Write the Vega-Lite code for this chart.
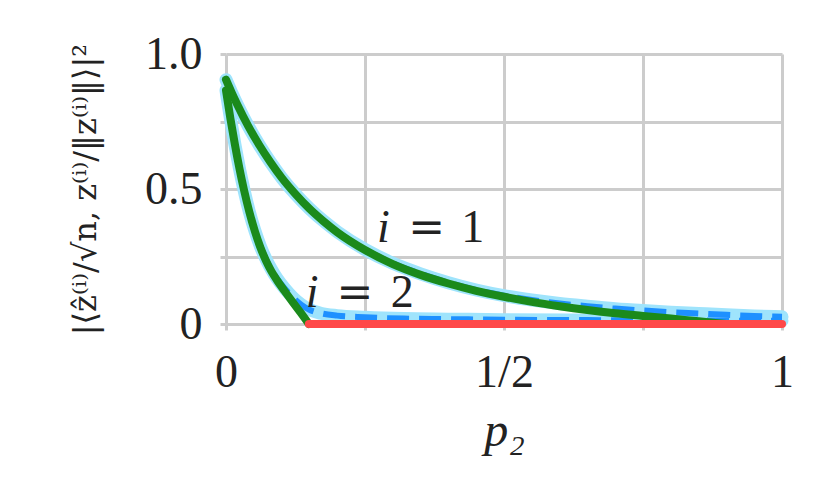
{
  "$schema": "https://vega.github.io/schema/vega-lite/v6.json",
  "width": 556,
  "height": 270,
  "autosize": "none",
  "padding": {"left": 226, "top": 54, "right": 48, "bottom": 175},
  "background": "white",
  "config": {
    "view": {"stroke": null},
    "axis": {
      "domain": false,
      "grid": true,
      "gridColor": "#cccccc",
      "gridWidth": 3,
      "gridOpacity": 1,
      "tickColor": "#cccccc",
      "tickWidth": 3,
      "tickSize": 6,
      "labelFont": "Liberation Serif",
      "labelFontSize": 46,
      "labelColor": "#222222",
      "labelFlush": false,
      "labelOverlap": false,
      "titleColor": "#222222",
      "titleFontWeight": "normal"
    }
  },
  "datasets": {
    "curves": [
      {"series": "sim1", "p2": 0, "overlap": 0.905},
      {"series": "sim1", "p2": 0.01, "overlap": 0.858},
      {"series": "sim1", "p2": 0.02, "overlap": 0.814},
      {"series": "sim1", "p2": 0.04, "overlap": 0.733},
      {"series": "sim1", "p2": 0.06, "overlap": 0.662},
      {"series": "sim1", "p2": 0.08, "overlap": 0.599},
      {"series": "sim1", "p2": 0.1, "overlap": 0.542},
      {"series": "sim1", "p2": 0.125, "overlap": 0.481},
      {"series": "sim1", "p2": 0.15, "overlap": 0.428},
      {"series": "sim1", "p2": 0.175, "overlap": 0.382},
      {"series": "sim1", "p2": 0.2, "overlap": 0.342},
      {"series": "sim1", "p2": 0.25, "overlap": 0.276},
      {"series": "sim1", "p2": 0.3, "overlap": 0.225},
      {"series": "sim1", "p2": 0.35, "overlap": 0.186},
      {"series": "sim1", "p2": 0.4, "overlap": 0.153},
      {"series": "sim1", "p2": 0.45, "overlap": 0.126},
      {"series": "sim1", "p2": 0.5, "overlap": 0.105},
      {"series": "sim1", "p2": 0.55, "overlap": 0.089},
      {"series": "sim1", "p2": 0.6, "overlap": 0.076},
      {"series": "sim1", "p2": 0.65, "overlap": 0.066},
      {"series": "sim1", "p2": 0.7, "overlap": 0.057},
      {"series": "sim1", "p2": 0.75, "overlap": 0.05},
      {"series": "sim1", "p2": 0.8, "overlap": 0.044},
      {"series": "sim1", "p2": 0.85, "overlap": 0.039},
      {"series": "sim1", "p2": 0.9, "overlap": 0.034},
      {"series": "sim1", "p2": 0.95, "overlap": 0.03},
      {"series": "sim1", "p2": 1, "overlap": 0.027},

      {"series": "sim2", "p2": 0, "overlap": 0.865},
      {"series": "sim2", "p2": 0.008, "overlap": 0.76},
      {"series": "sim2", "p2": 0.016, "overlap": 0.665},
      {"series": "sim2", "p2": 0.024, "overlap": 0.578},
      {"series": "sim2", "p2": 0.032, "overlap": 0.5},
      {"series": "sim2", "p2": 0.042, "overlap": 0.415},
      {"series": "sim2", "p2": 0.052, "overlap": 0.345},
      {"series": "sim2", "p2": 0.062, "overlap": 0.287},
      {"series": "sim2", "p2": 0.072, "overlap": 0.24},
      {"series": "sim2", "p2": 0.082, "overlap": 0.201},
      {"series": "sim2", "p2": 0.092, "overlap": 0.168},
      {"series": "sim2", "p2": 0.105, "overlap": 0.133},
      {"series": "sim2", "p2": 0.12, "overlap": 0.099},
      {"series": "sim2", "p2": 0.135, "overlap": 0.072},
      {"series": "sim2", "p2": 0.15, "overlap": 0.053},
      {"series": "sim2", "p2": 0.17, "overlap": 0.04},
      {"series": "sim2", "p2": 0.2, "overlap": 0.031},
      {"series": "sim2", "p2": 0.25, "overlap": 0.025},
      {"series": "sim2", "p2": 0.32, "overlap": 0.02},
      {"series": "sim2", "p2": 0.4, "overlap": 0.018},
      {"series": "sim2", "p2": 0.5, "overlap": 0.016},
      {"series": "sim2", "p2": 0.7, "overlap": 0.014},
      {"series": "sim2", "p2": 1, "overlap": 0.012},

      {"series": "theory1", "p2": 0, "overlap": 0.905},
      {"series": "theory1", "p2": 0.01, "overlap": 0.858},
      {"series": "theory1", "p2": 0.02, "overlap": 0.814},
      {"series": "theory1", "p2": 0.04, "overlap": 0.733},
      {"series": "theory1", "p2": 0.06, "overlap": 0.662},
      {"series": "theory1", "p2": 0.08, "overlap": 0.599},
      {"series": "theory1", "p2": 0.1, "overlap": 0.542},
      {"series": "theory1", "p2": 0.125, "overlap": 0.481},
      {"series": "theory1", "p2": 0.15, "overlap": 0.427},
      {"series": "theory1", "p2": 0.175, "overlap": 0.381},
      {"series": "theory1", "p2": 0.2, "overlap": 0.34},
      {"series": "theory1", "p2": 0.25, "overlap": 0.274},
      {"series": "theory1", "p2": 0.3, "overlap": 0.222},
      {"series": "theory1", "p2": 0.35, "overlap": 0.182},
      {"series": "theory1", "p2": 0.4, "overlap": 0.15},
      {"series": "theory1", "p2": 0.45, "overlap": 0.123},
      {"series": "theory1", "p2": 0.5, "overlap": 0.101},
      {"series": "theory1", "p2": 0.55, "overlap": 0.082},
      {"series": "theory1", "p2": 0.6, "overlap": 0.066},
      {"series": "theory1", "p2": 0.65, "overlap": 0.052},
      {"series": "theory1", "p2": 0.7, "overlap": 0.04},
      {"series": "theory1", "p2": 0.75, "overlap": 0.03},
      {"series": "theory1", "p2": 0.8, "overlap": 0.02},
      {"series": "theory1", "p2": 0.85, "overlap": 0.01},
      {"series": "theory1", "p2": 0.88, "overlap": 0.004},
      {"series": "theory1", "p2": 0.9, "overlap": 0},

      {"series": "theory2", "p2": 0, "overlap": 0.865},
      {"series": "theory2", "p2": 0.008, "overlap": 0.76},
      {"series": "theory2", "p2": 0.016, "overlap": 0.665},
      {"series": "theory2", "p2": 0.024, "overlap": 0.578},
      {"series": "theory2", "p2": 0.032, "overlap": 0.5},
      {"series": "theory2", "p2": 0.042, "overlap": 0.415},
      {"series": "theory2", "p2": 0.052, "overlap": 0.343},
      {"series": "theory2", "p2": 0.062, "overlap": 0.283},
      {"series": "theory2", "p2": 0.072, "overlap": 0.234},
      {"series": "theory2", "p2": 0.082, "overlap": 0.194},
      {"series": "theory2", "p2": 0.092, "overlap": 0.161},
      {"series": "theory2", "p2": 0.105, "overlap": 0.123},
      {"series": "theory2", "p2": 0.12, "overlap": 0.081},
      {"series": "theory2", "p2": 0.135, "overlap": 0.04},
      {"series": "theory2", "p2": 0.149, "overlap": 0},

      {"series": "zero", "p2": 0.149, "overlap": 0},
      {"series": "zero", "p2": 1, "overlap": 0}
    ],
    "labels": [
      {"kind": "i", "t": "i", "p2": 0.283, "overlap": 0.305},
      {"kind": "eq", "t": "=", "p2": 0.361, "overlap": 0.305},
      {"kind": "num", "t": "1", "p2": 0.444, "overlap": 0.305},
      {"kind": "i", "t": "i", "p2": 0.155, "overlap": 0.063},
      {"kind": "eq", "t": "=", "p2": 0.232, "overlap": 0.063},
      {"kind": "num", "t": "2", "p2": 0.317, "overlap": 0.063}
    ]
  },
  "encoding": {
    "x": {
      "field": "p2",
      "type": "quantitative",
      "scale": {"domain": [0, 1], "nice": false, "zero": false},
      "axis": {
        "values": [0, 0.25, 0.5, 0.75, 1],
        "labelExpr": "datum.value == 0 ? '0' : datum.value == 0.5 ? '1/2' : datum.value == 1 ? '1' : ''",
        "labelPadding": 20,
        "title": "p₂",
        "titleFont": "Liberation Serif",
        "titleFontStyle": "italic",
        "titleFontSize": 48,
        "titlePadding": 12
      }
    },
    "y": {
      "field": "overlap",
      "type": "quantitative",
      "scale": {"domain": [0, 1], "nice": false, "zero": false},
      "axis": {
        "values": [0, 0.25, 0.5, 0.75, 1],
        "labelExpr": "datum.value == 0 ? '0' : datum.value == 0.5 ? '0.5' : datum.value == 1 ? '1.0' : ''",
        "labelPadding": 18,
        "title": "|⟨ẑ⁽ⁱ⁾/√n, z⁽ⁱ⁾/‖z⁽ⁱ⁾‖⟩|²",
        "titleFont": "DejaVu Serif",
        "titleFontSize": 32,
        "titlePadding": 42
      }
    }
  },
  "layer": [
    {
      "data": {"name": "curves"},
      "transform": [{"filter": "datum.series == 'sim1' || datum.series == 'sim2'"}],
      "mark": {"type": "line", "color": "#9fe4fc", "strokeWidth": 13, "strokeCap": "round", "interpolate": "monotone"},
      "encoding": {"detail": {"field": "series"}}
    },
    {
      "data": {"name": "curves"},
      "transform": [{"filter": "datum.series == 'sim1' || datum.series == 'sim2'"}],
      "mark": {"type": "line", "color": "#1e90ff", "strokeWidth": 6, "strokeDash": [22, 10], "interpolate": "monotone"},
      "encoding": {"detail": {"field": "series"}}
    },
    {
      "data": {"name": "curves"},
      "transform": [{"filter": "datum.series == 'theory1' || datum.series == 'theory2'"}],
      "mark": {"type": "line", "color": "#1b8a1b", "strokeWidth": 8, "strokeCap": "round", "interpolate": "monotone"},
      "encoding": {"detail": {"field": "series"}}
    },
    {
      "data": {"name": "curves"},
      "transform": [{"filter": "datum.series == 'zero'"}],
      "mark": {"type": "line", "color": "#ff4848", "strokeWidth": 8, "strokeCap": "round"},
      "encoding": {"detail": {"field": "series"}}
    },
    {
      "data": {"name": "labels"},
      "transform": [{"filter": "datum.kind == 'i'"}],
      "mark": {"type": "text", "font": "Liberation Serif", "fontStyle": "italic", "fontSize": 46, "align": "center", "baseline": "alphabetic", "color": "#222222"},
      "encoding": {"text": {"field": "t"}}
    },
    {
      "data": {"name": "labels"},
      "transform": [{"filter": "datum.kind == 'eq'"}],
      "mark": {"type": "text", "font": "DejaVu Serif", "fontSize": 44, "align": "center", "baseline": "alphabetic", "color": "#222222"},
      "encoding": {"text": {"field": "t"}}
    },
    {
      "data": {"name": "labels"},
      "transform": [{"filter": "datum.kind == 'num'"}],
      "mark": {"type": "text", "font": "Liberation Serif", "fontSize": 46, "align": "center", "baseline": "alphabetic", "color": "#222222"},
      "encoding": {"text": {"field": "t"}}
    }
  ]
}
